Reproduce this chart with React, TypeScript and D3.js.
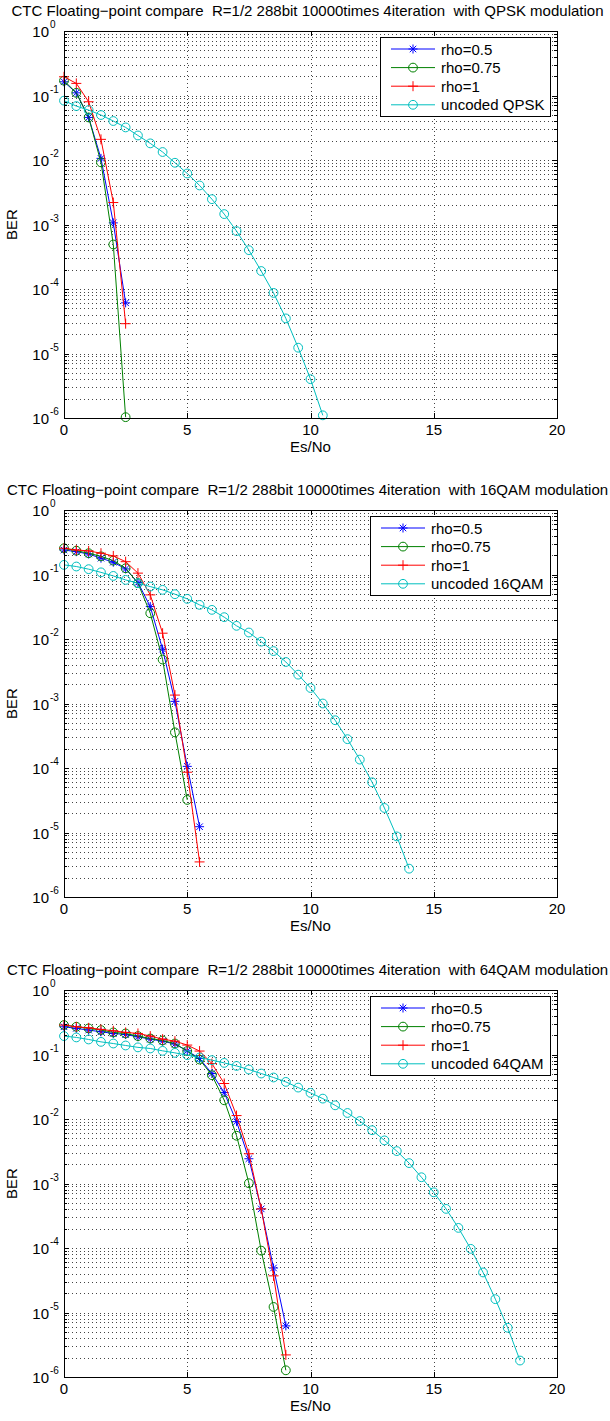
import * as React from "react"
import { select, scaleLinear, scaleLog, line } from "d3"

// values: Es/No (dB) -> BER
const xTickValues = [0, 5, 10, 15, 20]
const yTickExponents = [0, -1, -2, -3, -4, -5, -6]
const rhoNames = ["rho=0.5", "rho=0.75", "rho=1"]
const modulations = ["QPSK", "16QAM", "64QAM"]

// QPSK
const qpskCodedX = [0, 0.5, 1, 1.5, 2, 2.5]
const qpskRho05 = [0.163, 0.11, 0.0457, 0.0106, 1.06e-3, 6.1e-5]
const qpskRho075 = [0.17, 0.11, 0.0457, 9.2e-3, 4.9e-4, 1.03e-6]
const qpskRho1 = [0.195, 0.154, 0.08, 0.0209, 2.19e-3, 2.9e-5]
const qpskUncodedX = [0, 0.5, 1, 1.5, 2, 2.5, 3, 3.5, 4, 4.5, 5, 5.5, 6, 6.5, 7, 7.5, 8, 8.5, 9, 9.5, 10, 10.5]
const qpskUncoded = [
  0.0832, 0.0685, 0.0594, 0.0498, 0.0402, 0.032, 0.024, 0.0181, 0.0133, 9.06e-3, 6.18e-3,
  4.03e-3, 2.47e-3, 1.45e-3, 7.9e-4, 4.0e-4, 1.9e-4, 8.7e-5, 3.5e-5, 1.23e-5, 4.0e-6, 1.1e-6,
]

// 16QAM
const qam16Rho05X = [0, 0.5, 1, 1.5, 2, 2.5, 3, 3.5, 4, 4.5, 5, 5.5]
const qam16Rho05 = [0.24, 0.226, 0.208, 0.179, 0.155, 0.122, 0.075, 0.0318, 6.97e-3, 1.08e-3, 1.06e-4, 1.23e-5]
const qam16Rho075X = [0, 0.5, 1, 1.5, 2, 2.5, 3, 3.5, 4, 4.5, 5]
const qam16Rho075 = [0.255, 0.234, 0.214, 0.191, 0.164, 0.125, 0.0733, 0.0251, 4.8e-3, 3.57e-4, 3.2e-5]
const qam16Rho1X = [0, 0.5, 1, 1.5, 2, 2.5, 3, 3.5, 4, 4.5, 5, 5.5]
const qam16Rho1 = [0.255, 0.24, 0.232, 0.214, 0.194, 0.158, 0.105, 0.0483, 0.0123, 1.35e-3, 8.6e-5, 3.5e-6]
const qam16UncodedX = [
  0, 0.5, 1, 1.5, 2, 2.5, 3, 3.5, 4, 4.5, 5, 5.5, 6, 6.5, 7, 7.5, 8, 8.5, 9, 9.5, 10, 10.5, 11,
  11.5, 12, 12.5, 13, 13.5, 14,
]
const qam16Uncoded = [
  0.141, 0.133, 0.121, 0.108, 0.095, 0.0824, 0.0733, 0.065, 0.0578, 0.0495, 0.0419, 0.0338,
  0.0283, 0.0218, 0.016, 0.0126, 9.1e-3, 6.5e-3, 4.4e-3, 2.8e-3, 1.74e-3, 1.0e-3, 5.5e-4,
  2.8e-4, 1.35e-4, 6.0e-5, 2.4e-5, 8.7e-6, 2.75e-6,
]

// 64QAM
const qam64CodedX = [0, 0.5, 1, 1.5, 2, 2.5, 3, 3.5, 4, 4.5, 5, 5.5, 6, 6.5, 7, 7.5, 8, 8.5, 9]
const qam64Rho05 = [
  0.269, 0.254, 0.239, 0.225, 0.212, 0.204, 0.188, 0.173, 0.161, 0.145, 0.114, 0.0867, 0.0507,
  0.0257, 9.1e-3, 2.42e-3, 4.04e-4, 4.9e-5, 6.2e-6,
]
const qam64Rho075 = [
  0.286, 0.269, 0.254, 0.239, 0.22, 0.212, 0.193, 0.177, 0.165, 0.148, 0.113, 0.0836, 0.0478,
  0.0195, 5.5e-3, 1.01e-3, 9.1e-5, 1.22e-5, 1.27e-6,
]
const qam64Rho1 = [
  0.286, 0.269, 0.259, 0.245, 0.233, 0.22, 0.212, 0.193, 0.173, 0.161, 0.14, 0.113, 0.0724,
  0.0355, 0.0113, 2.89e-3, 4.04e-4, 3.7e-5, 2.2e-6,
]
const qam64UncodedX = [
  0, 0.5, 1, 1.5, 2, 2.5, 3, 3.5, 4, 4.5, 5, 5.5, 6, 6.5, 7, 7.5, 8, 8.5, 9, 9.5, 10, 10.5, 11,
  11.5, 12, 12.5, 13, 13.5, 14, 14.5, 15, 15.5, 16, 16.5, 17, 17.5, 18, 18.5,
]
const qam64Uncoded = [
  0.193, 0.184, 0.171, 0.157, 0.148, 0.138, 0.129, 0.124, 0.114, 0.106, 0.0977, 0.0899, 0.0817,
  0.0741, 0.0665, 0.0585, 0.0507, 0.044, 0.0376, 0.0307, 0.0254, 0.0207, 0.0163, 0.0124, 9.3e-3,
  6.7e-3, 4.66e-3, 3.18e-3, 2.07e-3, 1.25e-3, 7.3e-4, 4.04e-4, 2.05e-4, 9.7e-5, 4.18e-5,
  1.61e-5, 5.8e-6, 1.8e-6,
]

const seriesStyle = [
  { color: "#0000ff", marker: "*" },
  { color: "#008000", marker: "o" },
  { color: "#ff0000", marker: "+" },
  { color: "#00bfbf", marker: "o" },
]

const panels = [
  [
    [qpskCodedX, qpskRho05],
    [qpskCodedX, qpskRho075],
    [qpskCodedX, qpskRho1],
    [qpskUncodedX, qpskUncoded],
  ],
  [
    [qam16Rho05X, qam16Rho05],
    [qam16Rho075X, qam16Rho075],
    [qam16Rho1X, qam16Rho1],
    [qam16UncodedX, qam16Uncoded],
  ],
  [
    [qam64CodedX, qam64Rho05],
    [qam64CodedX, qam64Rho075],
    [qam64CodedX, qam64Rho1],
    [qam64UncodedX, qam64Uncoded],
  ],
]

const width = 610
const height = 1421
const axLeft = 64
const axRight = 557
const axHeight = 387
const panelTops = [31, 510, 990]
const font = "'Liberation Sans', Arial, Helvetica, sans-serif"

function drawMarker(g, type, cx, cy, color) {
  if (type === "o") {
    g.append("circle")
      .attr("cx", cx)
      .attr("cy", cy)
      .attr("r", 4.4)
      .attr("fill", "none")
      .attr("stroke", color)
      .attr("stroke-width", 1)
  } else if (type === "+") {
    const r = 5
    g.append("path")
      .attr("d", `M${cx - r},${cy}H${cx + r}M${cx},${cy - r}V${cy + r}`)
      .attr("stroke", color)
      .attr("stroke-width", 1)
  } else {
    const r = 4.5
    const d = r * 0.72
    g.append("path")
      .attr(
        "d",
        `M${cx - r},${cy}H${cx + r}M${cx},${cy - r}V${cy + r}` +
          `M${cx - d},${cy - d}L${cx + d},${cy + d}M${cx - d},${cy + d}L${cx + d},${cy - d}`
      )
      .attr("stroke", color)
      .attr("stroke-width", 1)
  }
}

function drawPanel(svg, series, top, modName) {
  const g = svg.append("g")
  const bottom = top + axHeight

  const x = scaleLinear().domain([0, 20]).range([axLeft, axRight])
  const y = scaleLog().domain([1e-6, 1]).range([bottom, top])
  const yTicks = y.ticks()

  // dotted grid
  const grid = g.append("g").attr("stroke", "#444").attr("stroke-width", 1).attr("stroke-dasharray", "1,3")
  yTicks.forEach((t) => {
    const yy = Math.round(y(t)) + 0.5
    grid.append("line").attr("x1", axLeft).attr("x2", axRight).attr("y1", yy).attr("y2", yy)
  })
  xTickValues.slice(1, -1).forEach((t) => {
    const xx = Math.round(x(t)) + 0.5
    grid.append("line").attr("x1", xx).attr("x2", xx).attr("y1", top).attr("y2", bottom)
  })

  // curves
  const path = line()
    .x((d) => x(d[0]))
    .y((d) => y(d[1]))
  series.forEach(([xs, ys], i) => {
    const pts = xs.map((v, k) => [v, ys[k]])
    const st = seriesStyle[i]
    g.append("path")
      .datum(pts)
      .attr("fill", "none")
      .attr("stroke", st.color)
      .attr("stroke-width", 1)
      .attr("d", path)
    const mg = g.append("g")
    pts.forEach((p) => drawMarker(mg, st.marker, x(p[0]), y(p[1]), st.color))
  })

  // axes box
  g.append("rect")
    .attr("x", axLeft + 0.5)
    .attr("y", top + 0.5)
    .attr("width", axRight - axLeft)
    .attr("height", axHeight)
    .attr("fill", "none")
    .attr("stroke", "#000")
    .attr("stroke-width", 1)

  // ticks (inward)
  const tk = g.append("g").attr("stroke", "#000").attr("stroke-width", 1)
  yTicks.forEach((t) => {
    const yy = Math.round(y(t)) + 0.5
    const major = Math.abs(Math.log10(t) - Math.round(Math.log10(t))) < 1e-9
    const len = major ? 5 : 3
    tk.append("line").attr("x1", axLeft).attr("x2", axLeft + len).attr("y1", yy).attr("y2", yy)
    tk.append("line").attr("x1", axRight - len).attr("x2", axRight).attr("y1", yy).attr("y2", yy)
  })
  xTickValues.forEach((t) => {
    const xx = Math.round(x(t)) + 0.5
    tk.append("line").attr("x1", xx).attr("x2", xx).attr("y1", bottom).attr("y2", bottom - 5)
    tk.append("line").attr("x1", xx).attr("x2", xx).attr("y1", top).attr("y2", top + 5)
  })

  // tick labels
  const lab = g.append("g").attr("font-family", font).attr("fill", "#000")
  yTickExponents.forEach((e) => {
    const yy = y(Math.pow(10, e))
    lab.append("text").attr("x", 49).attr("y", yy + 6).attr("text-anchor", "end").attr("font-size", 15).text("10")
    lab.append("text").attr("x", 50).attr("y", yy - 3).attr("font-size", 10).text(String(e))
  })
  xTickValues.forEach((t) => {
    lab.append("text")
      .attr("x", x(t))
      .attr("y", bottom + 16.5)
      .attr("text-anchor", "middle")
      .attr("font-size", 15)
      .text(String(t))
  })

  // axis titles
  lab.append("text")
    .attr("x", (axLeft + axRight) / 2)
    .attr("y", bottom + 34)
    .attr("text-anchor", "middle")
    .attr("font-size", 15)
    .text("Es/No")
  lab.append("text")
    .attr("transform", `translate(17,${(top + bottom) / 2}) rotate(-90)`)
    .attr("text-anchor", "middle")
    .attr("font-size", 15)
    .text("BER")
  lab.append("text")
    .attr("x", (axLeft + axRight) / 2 - 3)
    .attr("y", top - 15)
    .attr("text-anchor", "middle")
    .attr("font-size", 15)
    .style("white-space", "pre")
    .text(`CTC Floating\u2212point compare  R=1/2 288bit 10000times 4iteration  with ${modName} modulation`)

  // legend
  const names = [...rhoNames, `uncoded ${modName}`]
  const lg = g.append("g")
  const box = lg.append("rect").attr("fill", "#fff").attr("stroke", "#000").attr("stroke-width", 1)
  const texts = names.map((n) =>
    lg.append("text").attr("font-family", font).attr("font-size", 15).attr("fill", "#000").text(n)
  )
  const maxW = Math.max(...texts.map((t) => t.node().getComputedTextLength()))
  const boxW = Math.round(maxW + 67)
  const boxRight = axRight - 7
  const boxLeft = boxRight - boxW
  const boxTop = top + 6
  box.attr("x", boxLeft + 0.5).attr("y", boxTop + 0.5).attr("width", boxW).attr("height", 79)
  names.forEach((n, i) => {
    const ry = boxTop + 12 + i * 18.6
    const st = seriesStyle[i]
    lg.append("line")
      .attr("x1", boxLeft + 11)
      .attr("x2", boxLeft + 55)
      .attr("y1", ry)
      .attr("y2", ry)
      .attr("stroke", st.color)
      .attr("stroke-width", 1)
    drawMarker(lg, st.marker, boxLeft + 33, ry, st.color)
    texts[i].attr("x", boxLeft + 61).attr("y", ry + 5.5)
  })
}

export default function App() {
  const svgRef = React.useRef(null)

  React.useEffect(() => {
    const svg = select(svgRef.current)
    svg.selectAll("*").remove()
    panels.forEach((series, i) => drawPanel(svg, series, panelTops[i], modulations[i]))
  }, [])

  return (
    <svg
      ref={svgRef}
      width={width}
      height={height}
      style={{ position: "absolute", left: 0, top: 0, background: "#fff" }}
    />
  )
}
